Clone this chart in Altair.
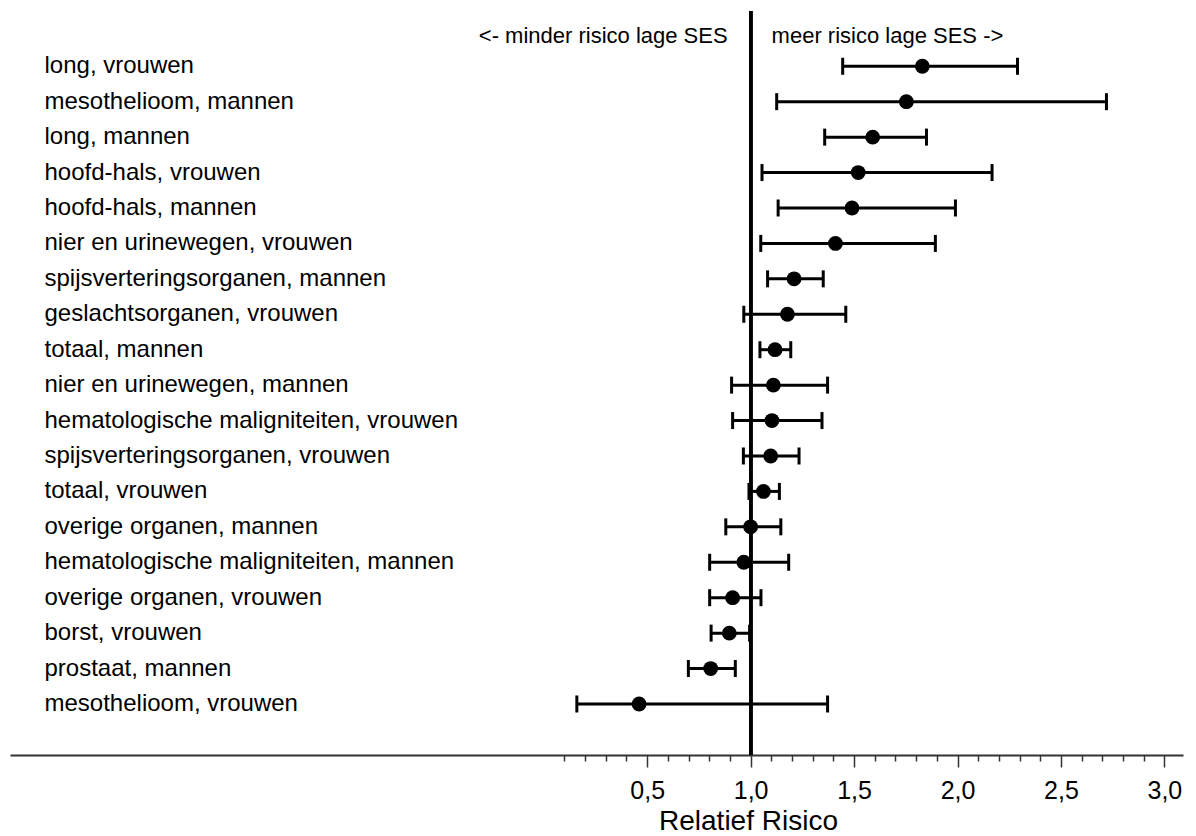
import altair as alt
import pandas as pd

categories = [
    "long, vrouwen",
    "mesothelioom, mannen",
    "long, mannen",
    "hoofd-hals, vrouwen",
    "hoofd-hals, mannen",
    "nier en urinewegen, vrouwen",
    "spijsverteringsorganen, mannen",
    "geslachtsorganen, vrouwen",
    "totaal, mannen",
    "nier en urinewegen, mannen",
    "hematologische maligniteiten, vrouwen",
    "spijsverteringsorganen, vrouwen",
    "totaal, vrouwen",
    "overige organen, mannen",
    "hematologische maligniteiten, mannen",
    "overige organen, vrouwen",
    "borst, vrouwen",
    "prostaat, mannen",
    "mesothelioom, vrouwen",
]
rr = [1.83, 1.753, 1.59, 1.52, 1.49, 1.41, 1.21, 1.178, 1.118, 1.11,
      1.103, 1.097, 1.062, 1.0, 0.967, 0.913, 0.897, 0.807, 0.461]
lower = [1.445, 1.126, 1.358, 1.055, 1.133, 1.049, 1.082, 0.967, 1.045, 0.908,
         0.913, 0.965, 0.992, 0.88, 0.802, 0.802, 0.809, 0.699, 0.16]
upper = [2.29, 2.72, 1.85, 2.167, 1.99, 1.893, 1.351, 1.46, 1.194, 1.372,
         1.345, 1.234, 1.139, 1.146, 1.184, 1.05, 0.995, 0.926, 1.372]
tick_values = [round(0.1 * i, 1) for i in range(1, 31)]
header_left = "<- minder risico lage SES"
header_right = "meer risico lage SES ->"
x_title = "Relatief Risico"

df = pd.DataFrame({"cat": categories, "rr": rr, "lo": lower, "hi": upper})

FONT = "Liberation Sans"
W, H = 1173, 744

xscale = alt.Scale(domain=[-2.58, 3.09], nice=False, zero=False)
yscale = alt.Scale(type="band", domain=categories, paddingInner=0, paddingOuter=1, align=0.53)

xaxis = alt.Axis(
    title=x_title,
    values=tick_values,
    labelExpr="abs(datum.value*2 - round(datum.value*2)) < 0.001 ? replace(format(datum.value, '.1f'), '.', ',') : ''",
    labelFont=FONT, labelFontSize=25, labelColor="black",
    labelPadding=11, labelFlush=False, labelOverlap=False,
    grid=False,
    domainColor="#333333", domainWidth=2,
    tickColor="#333333", tickWidth=1.5,
    tickSize={"condition": {"test": "abs(datum.value*2 - round(datum.value*2)) < 0.001", "value": 12}, "value": 6},
    titleFont=FONT, titleFontSize=28, titleFontWeight="normal", titleColor="black",
    titleX=738, titleY=74, titleAlign="center", titleBaseline="alphabetic", titleAnchor="start",
)

yaxis = alt.Axis(
    title=None, ticks=False, domain=False, grid=False,
    labelAlign="left", labelPadding=-34, labelFont=FONT, labelFontSize=24,
    labelColor="black", labelBaseline="middle", labelLimit=600,
)

base = alt.Chart(df)

ref = base.mark_rule(color="black", strokeWidth=3).encode(
    x=alt.datum(1.0, scale=xscale, axis=xaxis)
)

bars = base.mark_rule(color="black", strokeWidth=3).encode(
    x=alt.X("lo:Q", scale=xscale, axis=xaxis),
    x2="hi:Q",
    y=alt.Y("cat:N", scale=yscale, axis=yaxis, sort=categories),
)
cap_lo = base.mark_tick(color="black", thickness=3, size=17, opacity=1).encode(
    x=alt.X("lo:Q", scale=xscale),
    y=alt.Y("cat:N", scale=yscale, sort=categories),
)
cap_hi = base.mark_tick(color="black", thickness=3, size=17, opacity=1).encode(
    x=alt.X("hi:Q", scale=xscale),
    y=alt.Y("cat:N", scale=yscale, sort=categories),
)
pts = base.mark_circle(color="black", size=220, opacity=1).encode(
    x=alt.X("rr:Q", scale=xscale),
    y=alt.Y("cat:N", scale=yscale, sort=categories),
)

hdr_l = alt.Chart(pd.DataFrame({"t": [header_left]})).mark_text(
    align="right", baseline="alphabetic", dx=-23, font=FONT, fontSize=22, color="black"
).encode(x=alt.datum(1.0, scale=xscale), y=alt.value(31.7), text="t:N")
hdr_r = alt.Chart(pd.DataFrame({"t": [header_right]})).mark_text(
    align="left", baseline="alphabetic", dx=21, font=FONT, fontSize=22, color="black"
).encode(x=alt.datum(1.0, scale=xscale), y=alt.value(31.7), text="t:N")

chart = alt.layer(bars, ref, cap_lo, cap_hi, pts, hdr_l, hdr_r).properties(
    width=W, height=H,
    autosize=alt.AutoSizeParams(type="none"),
    padding={"left": 10, "top": 11, "right": 13, "bottom": 81},
).configure(background="white").configure_view(stroke=None)

chart.save("out.html", embed_options={"renderer": "svg", "actions": False})
